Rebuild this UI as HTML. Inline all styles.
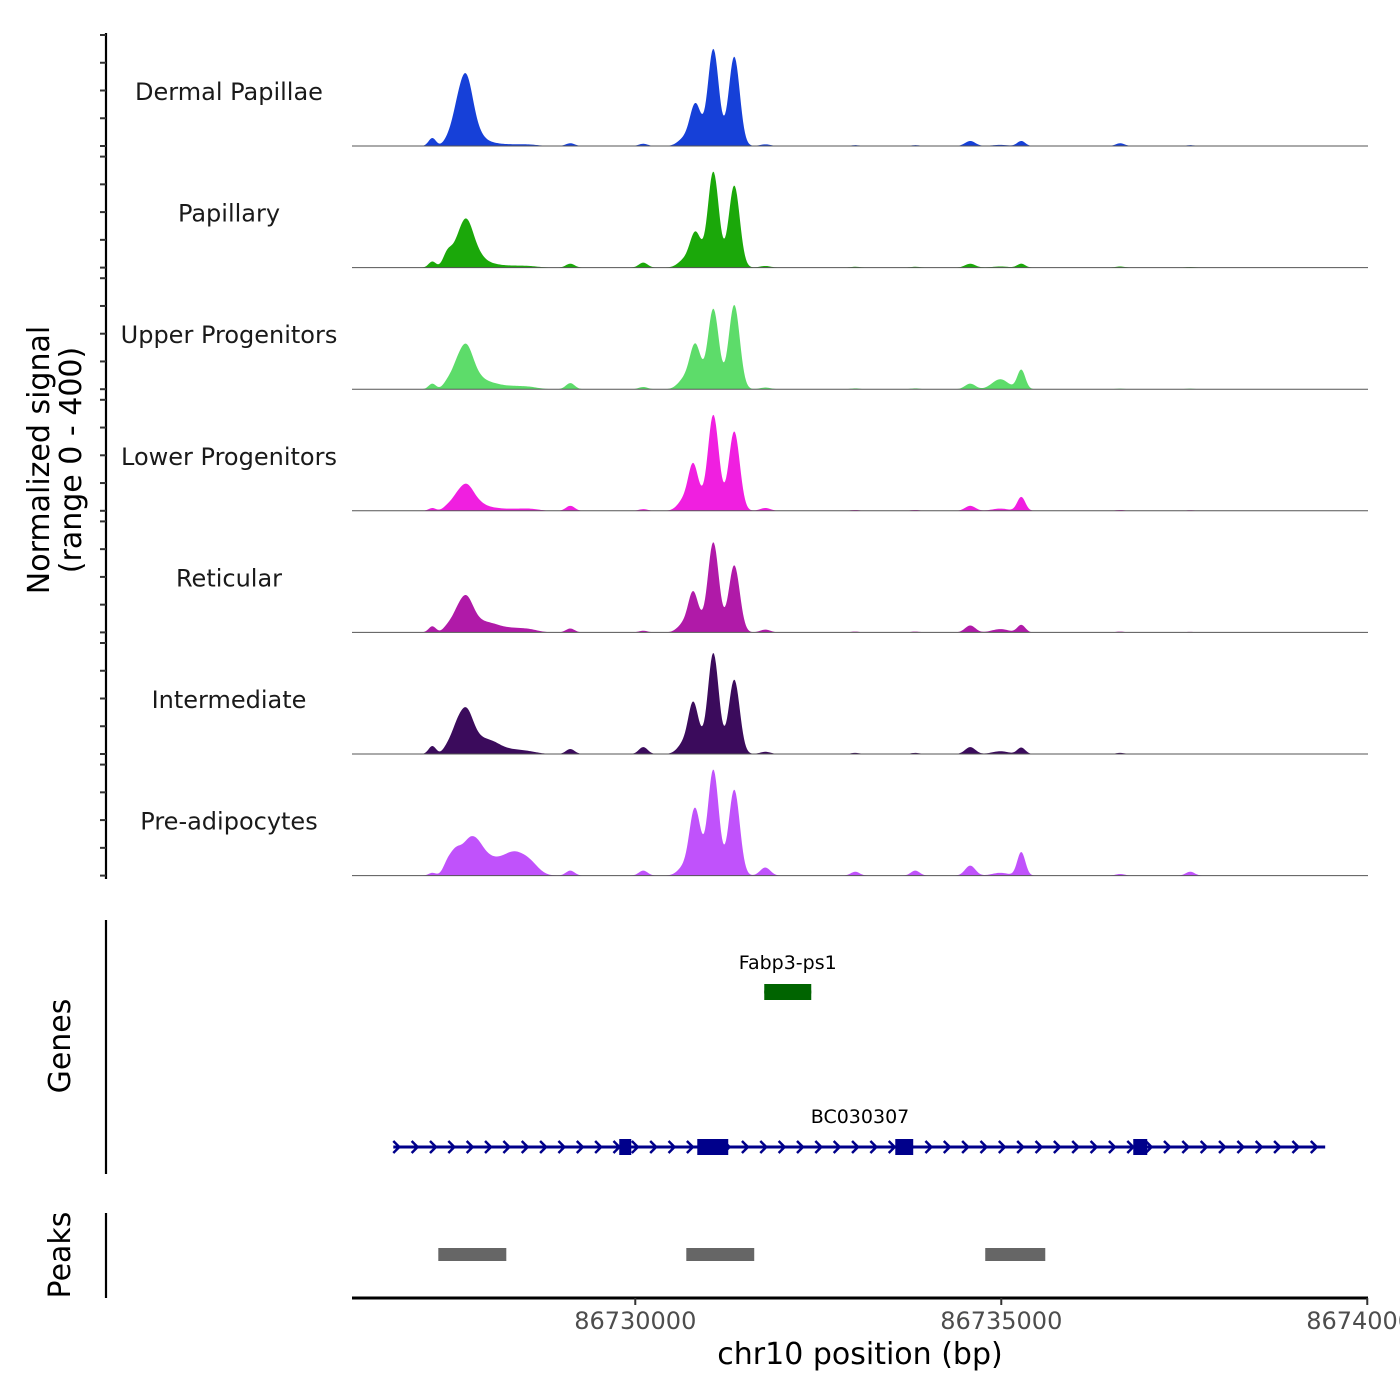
<!DOCTYPE html>
<html><head><meta charset="utf-8"><style>
html,body{margin:0;padding:0;background:#fff;overflow:hidden;width:1400px;height:1400px}
svg{display:block;font-family:"DejaVu Sans","Liberation Sans",sans-serif}
</style></head><body>
<svg id="chart" width="1400" height="1400" viewBox="0 0 1400 1400"></svg>
<script>
// ---- data ----
const xDomain = [86726130, 86740010];
const xTicks = [86730000, 86735000, 86740000];
const trackNames = ["Dermal Papillae","Papillary","Upper Progenitors","Lower Progenitors","Reticular","Intermediate","Pre-adipocytes"];
const trackColors = ["#1640d8","#1ba80a","#5ddc6a","#f01fe0","#b01aa8","#3b0b5c","#c052fb"];
const peakCenters = [86727227,86727432,86727541,86727678,86727814,86728019,86728333,86728566,86729112,86730109,86730683,86730779,86730847,86731066,86731352,86731776,86733005,86733825,86734576,86734986,86735273,86736625,86737581];
// heights (normalized signal, 0-400) per track at each peak center
const sigDermal   = [29,18,60,235,40,10,5,4,10,8,30,55,110,350,322,6,3,3,18,4,18,10,3];
const sigPapillary= [22,50,36,150,45,12,6,4,14,18,30,45,92,346,296,6,3,3,14,4,14,4,2];
const sigUpper    = [20,22,45,140,36,20,10,6,22,8,40,62,112,290,304,6,3,3,20,36,70,2,2];
const sigLower    = [10,14,28,80,28,10,6,6,18,6,45,110,62,346,286,10,3,3,18,8,50,3,2];
const sigReticular= [22,18,36,115,28,29,14,8,14,6,36,96,54,325,242,10,3,3,25,12,27,3,2];
const sigInter    = [29,22,55,142,36,43,14,6,18,25,45,120,72,364,268,8,4,4,25,10,23,4,2];
const sigPreadipo = [10,40,66,66,98,50,78,36,18,18,36,110,158,382,310,29,14,18,36,10,85,6,14];
const peakWidths  = [50,60,70,95,110,140,150,120,60,60,90,60,65,75,75,70,60,60,70,110,55,60,60];
const trackSignals = [sigDermal,sigPapillary,sigUpper,sigLower,sigReticular,sigInter,sigPreadipo];
const genes = [
  {name:"Fabp3-ps1", start:86731762, end:86732404, color:"#006400", labelY:963, y:992, exons:[[86731762,86732404]], arrows:false},
  {name:"BC030307", start:86726694, end:86739425, color:"#00008b", labelY:1117, y:1147, exons:[[86729781,86729945],[86730847,86731270],[86733552,86733797],[86736803,86736994]], arrows:true}
];
const peakStarts = [86727309, 86730697, 86734781];
const peakEnds   = [86728238, 86731625, 86735601];

// ---- scales ----
const X0=352, X1=1368;
const xs = v => X0 + (v - xDomain[0])/(xDomain[1]-xDomain[0])*(X1-X0);
const base0=146, trackStep=121.6, trackH=111, yMax=400;
const svg=document.getElementById('chart');
const NS="http://www.w3.org/2000/svg";
function mk(tag,attrs,parent){const e=document.createElementNS(NS,tag);for(const k in attrs)e.setAttribute(k,attrs[k]);(parent||svg).appendChild(e);return e;}

// left ruler axis
const ax=mk('line',{x1:106,y1:33,x2:106,y2:879,stroke:'#000','stroke-width':2.2});


for(let t=0;t<trackNames.length;t++){
  const b=base0+t*trackStep;
  for(let k=0;k<=4;k++){
    const y=b-k*100/yMax*trackH;
    const tk=mk('line',{x1:100,y1:y,x2:106,y2:y,stroke:'#333','stroke-width':2});
    
    
  }
}
const yt=mk('text',{x:0,y:0,transform:'translate(52,460) rotate(-90)','text-anchor':'middle','font-size':30,fill:'#000'});


const t1=mk('tspan',{x:0,dy:-3},yt);t1.textContent='Normalized signal';
const t2=mk('tspan',{x:0,dy:32},yt);t2.textContent='(range 0 - 400)';

// tracks
for(let t=0;t<trackNames.length;t++){
  const b=base0+t*trackStep;
  const sig=trackSignals[t];
  let d=`M${X0},${b}`;
  for(let px=X0;px<=X1;px+=1){
    const bp=xDomain[0]+(px-X0)/(X1-X0)*(xDomain[1]-xDomain[0]);
    let v=0;
    for(let i=0;i<peakCenters.length;i++){const z=(bp-peakCenters[i])/peakWidths[i];v+=sig[i]*Math.exp(-0.5*z*z);}
    v=Math.min(v,yMax);
    d+=`L${px},${(b-v/yMax*trackH).toFixed(2)}`;
  }
  d+=`L${X1},${b}Z`;
  const p=mk('path',{d:d,fill:trackColors[t],stroke:'none'});
  
  
  const bl=mk('line',{x1:X0,y1:b,x2:X1,y2:b,stroke:'#555','stroke-width':1});
  
  
  const lb=mk('text',{x:229,y:b-46,'text-anchor':'middle','font-size':24,fill:'#1a1a1a'});
  
  
  lb.textContent=trackNames[t];
}

// genes panel
const ga=mk('line',{x1:106,y1:920,x2:106,y2:1174,stroke:'#000','stroke-width':2.2});


const gt=mk('text',{x:0,y:0,transform:'translate(70,1046) rotate(-90)','text-anchor':'middle','font-size':30});


gt.textContent='Genes';
for(const g of genes){
  const x1=xs(g.start),x2=xs(g.end);
  const gl=mk('line',{x1:x1,y1:g.y,x2:x2,y2:g.y,stroke:g.color,'stroke-width':3});
  
  
  if(g.arrows){
    for(let x=x1+4;x<=x2+1;x+=18.35){
      const ar=mk('path',{d:`M${x-4},${g.y-6}L${x+2},${g.y}L${x-4},${g.y+6}`,stroke:g.color,'stroke-width':2.5,fill:'none'});
      
      
    }
  }
  for(const e of g.exons){
    const r=mk('rect',{x:xs(e[0]),y:g.y-8,width:xs(e[1])-xs(e[0]),height:16,fill:g.color});
    
    
  }
  const lab=mk('text',{x:(g.name==='BC030307'?860:(x1+x2)/2),y:g.labelY+6,'text-anchor':'middle','font-size':19,fill:'#000'});
  
  
  lab.textContent=g.name;
}

// peaks panel
const pa=mk('line',{x1:106,y1:1213,x2:106,y2:1298,stroke:'#000','stroke-width':2.2});


const pt=mk('text',{x:0,y:0,transform:'translate(70,1255) rotate(-90)','text-anchor':'middle','font-size':30});


pt.textContent='Peaks';
for(let i=0;i<peakStarts.length;i++){
  const r=mk('rect',{x:xs(peakStarts[i]),y:1248,width:xs(peakEnds[i])-xs(peakStarts[i]),height:13,fill:'#666'});
  
  
}

// x axis
const xa=mk('line',{x1:X0,y1:1298,x2:X1,y2:1298,stroke:'#000','stroke-width':3});


for(const v of xTicks){
  const x=xs(v);
  const tk=mk('line',{x1:x,y1:1298,x2:x,y2:1305,stroke:'#333','stroke-width':2});
  
  
  const tl=mk('text',{x:x,y:1329,'text-anchor':'middle','font-size':24,fill:'#4d4d4d'});
  
  
  tl.textContent=String(v);
}
const xt=mk('text',{x:860,y:1364,'text-anchor':'middle','font-size':30,fill:'#000'});


xt.textContent='chr10 position (bp)';
</script>
</body></html>
